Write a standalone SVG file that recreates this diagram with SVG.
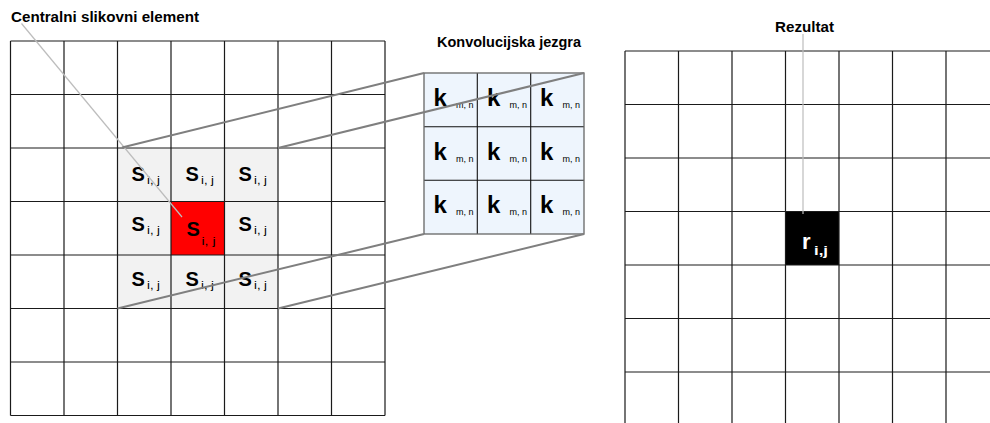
<svg xmlns="http://www.w3.org/2000/svg" width="990" height="423" viewBox="0 0 990 423">
<style>
text{font-family:"Liberation Sans",Arial,sans-serif;fill:#000}
.lbl{font-size:14.5px;font-weight:bold}
.grid{stroke:#1a1a1a;stroke-width:1.2;fill:none}
.big{font-size:20px;font-weight:bold}
.sub{font-size:11.5px}
.kb{font-size:24px;font-weight:bold}
.ks{font-size:9px}
.proj{stroke:#7f7f7f;stroke-width:2;fill:none}
.lead{stroke:#bdbdbd;stroke-width:1.2;fill:none}
</style>
<rect width="990" height="423" fill="#fff"/>

<g id="label-centralni"><text class="lbl" x="11" y="21.5" textLength="188" lengthAdjust="spacingAndGlyphs">Centralni slikovni element</text></g>
<g id="label-jezgra"><text class="lbl" x="437" y="47" textLength="144" lengthAdjust="spacingAndGlyphs">Konvolucijska jezgra</text></g>
<g id="label-rezultat"><text class="lbl" x="775" y="32" textLength="59" lengthAdjust="spacingAndGlyphs">Rezultat</text></g>

<g id="input-grid">
<rect x="117.5" y="148" width="160.5" height="160.5" fill="#f2f2f2"/>
<rect x="171" y="201.5" width="53.5" height="53.5" fill="#ff0000"/>
<path class="grid" d="M10.5 41V415.5M64 41V415.5M117.5 41V415.5M171 41V415.5M224.5 41V415.5M278 41V415.5M331.5 41V415.5M385 41V415.5M10.5 41H385M10.5 94.5H385M10.5 148H385M10.5 201.5H385M10.5 255H385M10.5 308.5H385M10.5 362H385M10.5 415.5H385"/>
<text class="big" x="131.5" y="181">S</text><text class="sub" x="147" y="184" textLength="13" lengthAdjust="spacingAndGlyphs">i, j</text>
<text class="big" x="185.5" y="181">S</text><text class="sub" x="201" y="184" textLength="13" lengthAdjust="spacingAndGlyphs">i, j</text>
<text class="big" x="238.5" y="181">S</text><text class="sub" x="254" y="184" textLength="13" lengthAdjust="spacingAndGlyphs">i, j</text>
<text class="big" x="131.5" y="231">S</text><text class="sub" x="147" y="234" textLength="13" lengthAdjust="spacingAndGlyphs">i, j</text>
<text class="big" x="186.5" y="236">S</text><text class="sub" x="201.5" y="244.5" textLength="14" lengthAdjust="spacingAndGlyphs">i, j</text>
<text class="big" x="238.5" y="231">S</text><text class="sub" x="254" y="234" textLength="13" lengthAdjust="spacingAndGlyphs">i, j</text>
<text class="big" x="131.5" y="286">S</text><text class="sub" x="147" y="289" textLength="13" lengthAdjust="spacingAndGlyphs">i, j</text>
<text class="big" x="185.5" y="286">S</text><text class="sub" x="201" y="289" textLength="13" lengthAdjust="spacingAndGlyphs">i, j</text>
<text class="big" x="238.5" y="286">S</text><text class="sub" x="254" y="289" textLength="13" lengthAdjust="spacingAndGlyphs">i, j</text>
</g>

<g id="kernel">
<rect x="424" y="73" width="160" height="161" fill="#eef5fd"/>
<path stroke="#111" stroke-width="1.1" fill="none" d="M477.3 73V234M530.7 73V234M424 126.7H584M424 180.3H584"/>
<rect x="424" y="73" width="160" height="161" fill="none" stroke="#666" stroke-width="1.3"/>
<text class="kb" x="433.5" y="106">k</text><text class="ks" x="456" y="107.5">m, n</text>
<text class="kb" x="487" y="106">k</text><text class="ks" x="509.5" y="107.5">m, n</text>
<text class="kb" x="540" y="106">k</text><text class="ks" x="562.5" y="107.5">m, n</text>
<text class="kb" x="433.5" y="160">k</text><text class="ks" x="456" y="161.5">m, n</text>
<text class="kb" x="487" y="160">k</text><text class="ks" x="509.5" y="161.5">m, n</text>
<text class="kb" x="540" y="160">k</text><text class="ks" x="562.5" y="161.5">m, n</text>
<text class="kb" x="433.5" y="213">k</text><text class="ks" x="456" y="214.5">m, n</text>
<text class="kb" x="487" y="213">k</text><text class="ks" x="509.5" y="214.5">m, n</text>
<text class="kb" x="540" y="213">k</text><text class="ks" x="562.5" y="214.5">m, n</text>
</g>

<g id="result-grid">
<rect x="785.5" y="211.5" width="53.5" height="53.5" fill="#000"/>
<path class="grid" d="M625 51V423M678.5 51V423M732 51V423M785.5 51V423M839 51V423M892.5 51V423M946 51V423M625 51H990M625 104.5H990M625 158H990M625 211.5H990M625 265H990M625 318.5H990M625 372H990"/>
<text x="802" y="248.5" style="font-size:22px;font-weight:bold;fill:#fff">r</text>
<text x="814" y="255" textLength="14" lengthAdjust="spacingAndGlyphs" style="font-size:13px;font-weight:bold;fill:#fff">i,j</text>
</g>

<g id="connectors">
<path class="lead" d="M21.5 23.5L182 217"/>
<path class="lead" stroke-width="1.6" d="M803 34V214"/>
<path class="proj" d="M122 147.5L424 73"/>
<path class="proj" d="M278 148L584 73"/>
<path class="proj" d="M117.5 308.5L424 234"/>
<path class="proj" d="M278 308.5L584 234"/>
</g>
</svg>
